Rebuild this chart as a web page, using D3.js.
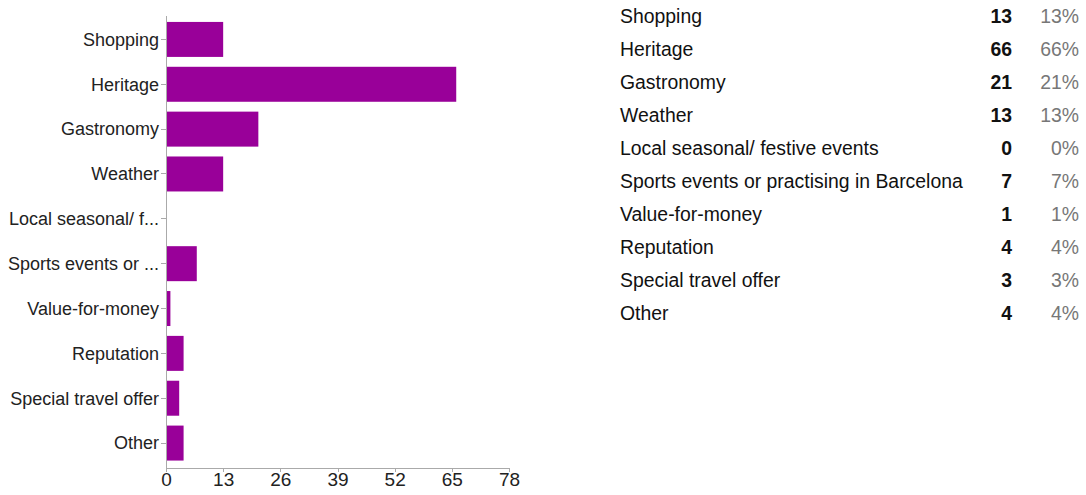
<!DOCTYPE html>
<meta charset="utf-8">
<title>Reasons to visit Barcelona</title>
<style>
body { margin: 0; background: #fff; font-family: Arial, "Liberation Sans", Helvetica, sans-serif; }
.axis path, .axis line { stroke: #aaa; shape-rendering: crispEdges; }
.axis text { fill: #222; font-size: 18px; font-family: Arial, "Liberation Sans", sans-serif; }
.bar { fill: #990099; }
.tbl text { font-size: 19.4px; font-family: Arial, "Liberation Sans", sans-serif; }
</style>
<script src="https://cdn.jsdelivr.net/npm/d3@7/dist/d3.min.js"></script>
<body>
<script>
var width = 1086, height = 495;
var labels = ["Shopping", "Heritage", "Gastronomy", "Weather", "Local seasonal/ festive events",
  "Sports events or practising in Barcelona", "Value-for-money", "Reputation", "Special travel offer", "Other"];
var shortLabels = ["Shopping", "Heritage", "Gastronomy", "Weather", "Local seasonal/ f...",
  "Sports events or ...", "Value-for-money", "Reputation", "Special travel offer", "Other"];
var counts = [13, 66, 21, 13, 0, 7, 1, 4, 3, 4];
var percents = ["13%", "66%", "21%", "13%", "0%", "7%", "1%", "4%", "3%", "4%"];
var xTicks = [0, 13, 26, 39, 52, 65, 78];

var svg = d3.select("body").append("svg").attr("width", width).attr("height", height);

var x = d3.scaleLinear().domain([0, 78]).range([166, 509]);
var y = d3.scaleBand().domain(shortLabels).range([17, 465.5]).paddingInner(0.22).paddingOuter(0.11);

// bars
svg.selectAll(".bar")
  .data(counts)
  .enter()
  .append("rect")
  .attr("class", "bar")
  .attr("x", x(0))
  .attr("y", function(d, i) { return y(shortLabels[i]); })
  .attr("width", function(d) { return x(d) - x(0); })
  .attr("height", y.bandwidth());

// y axis
var yAxis = svg.append("g")
  .attr("class", "axis")
  .attr("transform", "translate(" + x(0) + ",0)")
  .call(d3.axisLeft(y).tickSize(5).tickSizeOuter(0));
yAxis.select(".domain").attr("d", "M0.5,16V468");
yAxis.selectAll("text").attr("dy", "0.35em").attr("x", -7);

// x axis
var xAxis = svg.append("g")
  .attr("class", "axis")
  .attr("transform", "translate(0,468)")
  .call(d3.axisBottom(x).tickValues(xTicks).tickSize(4).tickSizeOuter(0));
xAxis.selectAll("text").attr("y", 5).style("font-size", "19px");

// table on the right
var rowY = d3.scaleBand().domain(labels).range([0, 330]);
var rows = svg.append("g").attr("class", "tbl")
  .selectAll("g")
  .data(labels)
  .enter()
  .append("g")
  .attr("transform", function(d) { return "translate(0," + (rowY(d) + 23) + ")"; });

rows.append("text")
  .attr("x", 620)
  .attr("fill", "#111")
  .text(function(d) { return d; });

rows.append("text")
  .attr("x", 1012)
  .attr("text-anchor", "end")
  .attr("font-weight", "bold")
  .attr("fill", "#111")
  .text(function(d, i) { return counts[i]; });

rows.append("text")
  .attr("x", 1079)
  .attr("text-anchor", "end")
  .attr("fill", "#777")
  .text(function(d, i) { return percents[i]; });
</script>
</body>
